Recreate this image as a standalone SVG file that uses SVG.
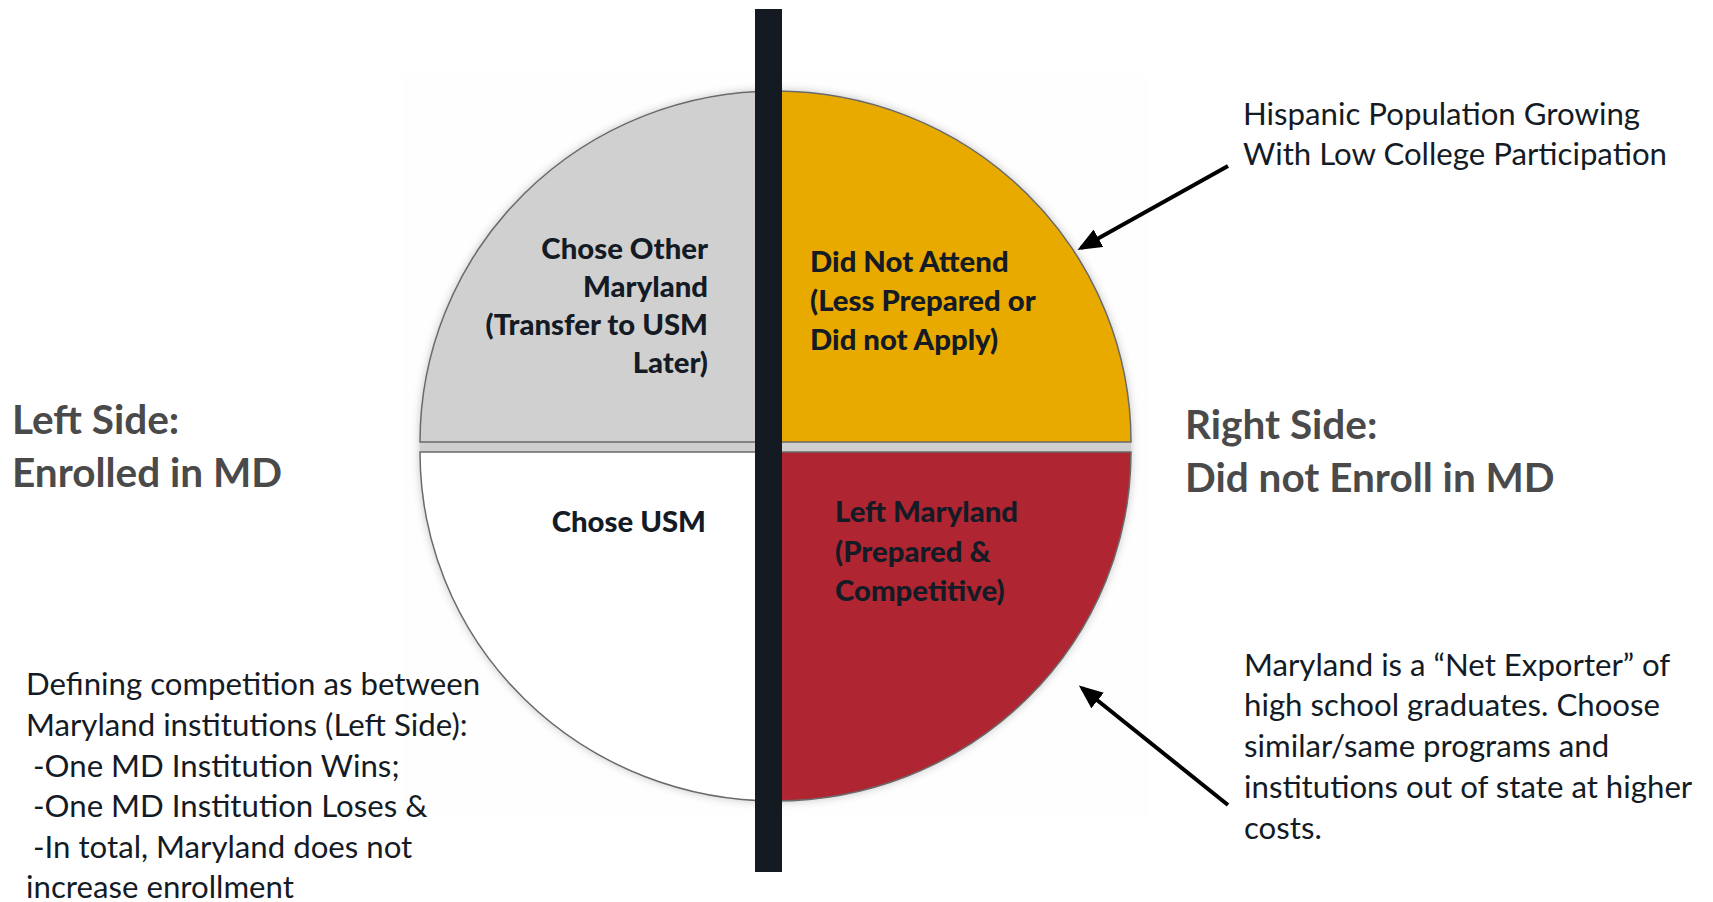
<svg xmlns="http://www.w3.org/2000/svg" width="1713" height="902" viewBox="0 0 1713 902">
<style>
.lbl{font-family:Lato,"Open Sans","Liberation Sans",sans-serif;font-weight:900;font-size:29.3px;fill:#141b25}
.head{font-family:Lato,"Open Sans","Liberation Sans",sans-serif;font-weight:700;font-size:40.5px;fill:#4a4a4a}
.body{font-family:Lato,"Open Sans","Liberation Sans",sans-serif;font-weight:400;font-size:31.2px;fill:#141b25}
.slice{stroke:#6a6a6a;stroke-width:1.5}
.arrow{stroke:#000;stroke-width:4;fill:none;marker-end:url(#ah)}
</style>
<defs>
<marker id="ah" markerWidth="6" markerHeight="5" refX="5" refY="2.5" orient="auto" markerUnits="strokeWidth">
<path d="M0,0 L6,2.5 L0,5 Z" fill="#000"/>
</marker>
<filter id="sh" x="-10%" y="-10%" width="120%" height="120%">
<feDropShadow dx="0" dy="0" stdDeviation="4" flood-color="#000" flood-opacity="0.22"/>
</filter>
</defs>
<rect width="1713" height="902" fill="#ffffff"/>
<rect x="403" y="74" width="745" height="743" fill="#fefefe"/>
<g id="pie" filter="url(#sh)">
<rect x="420" y="442" width="711" height="10" fill="#cfcfcf"/>
<g id="chose-other">
<path class="slice" d="M775.5,442 L420,442 A355.5,351 0 0 1 775.5,91 Z" fill="#d0d0d0"/>
</g>
<g id="did-not-attend">
<path class="slice" d="M775.5,442 L775.5,91 A355.5,351 0 0 1 1131,442 Z" fill="#e9aa00"/>
</g>
<g id="chose-usm">
<path class="slice" d="M775.5,452 L420,452 A355.5,349 0 0 0 775.5,801 Z" fill="#ffffff"/>
</g>
<g id="left-maryland">
<path class="slice" d="M775.5,452 L1131,452 A355.5,349 0 0 1 775.5,801 Z" fill="#af2630"/>
</g>
</g>
<g id="labels">
<text class="lbl" text-anchor="end"><tspan x="708" y="259">Chose Other</tspan><tspan x="708" y="297">Maryland</tspan><tspan x="708" y="335">(Transfer to USM</tspan><tspan x="708" y="373">Later)</tspan></text>
<text class="lbl"><tspan x="810" y="272">Did Not Attend</tspan><tspan x="810" y="311">(Less Prepared or</tspan><tspan x="810" y="350">Did not Apply)</tspan></text>
<text class="lbl" text-anchor="end" x="706" y="532">Chose USM</text>
<text class="lbl"><tspan x="835" y="522">Left Maryland</tspan><tspan x="835" y="562">(Prepared &amp;</tspan><tspan x="835" y="601">Competitive)</tspan></text>
</g>
<g id="divider">
<rect x="755" y="9" width="27" height="863" fill="#131a22"/>
</g>
<g id="left-heading">
<text class="head"><tspan x="12" y="434">Left Side:</tspan><tspan x="12" y="487">Enrolled in MD</tspan></text>
</g>
<g id="right-heading">
<text class="head"><tspan x="1185" y="439">Right Side:</tspan><tspan x="1185" y="492">Did not Enroll in MD</tspan></text>
</g>
<g id="hispanic-note">
<text class="body"><tspan x="1243" y="125">Hispanic Population Growing</tspan><tspan x="1243" y="165">With Low College Participation</tspan></text>
</g>
<g id="exporter-note">
<text class="body"><tspan x="1244" y="676">Maryland is a “Net Exporter” of</tspan><tspan x="1244" y="716">high school graduates. Choose</tspan><tspan x="1244" y="757">similar/same programs and</tspan><tspan x="1244" y="798">institutions out of state at higher</tspan><tspan x="1244" y="839">costs.</tspan></text>
</g>
<g id="competition-note">
<text class="body"><tspan x="26" y="695">Defining competition as between</tspan><tspan x="26" y="736">Maryland institutions (Left Side):</tspan><tspan x="33" y="777">-One MD Institution Wins;</tspan><tspan x="33" y="817">-One MD Institution Loses &amp;</tspan><tspan x="33" y="858">-In total, Maryland does not</tspan><tspan x="26" y="898">increase enrollment</tspan></text>
</g>
<g id="connectors">
<line class="arrow" x1="1228" y1="166" x2="1081" y2="248"/>
<line class="arrow" x1="1228" y1="805" x2="1082" y2="688"/>
</g>
</svg>
